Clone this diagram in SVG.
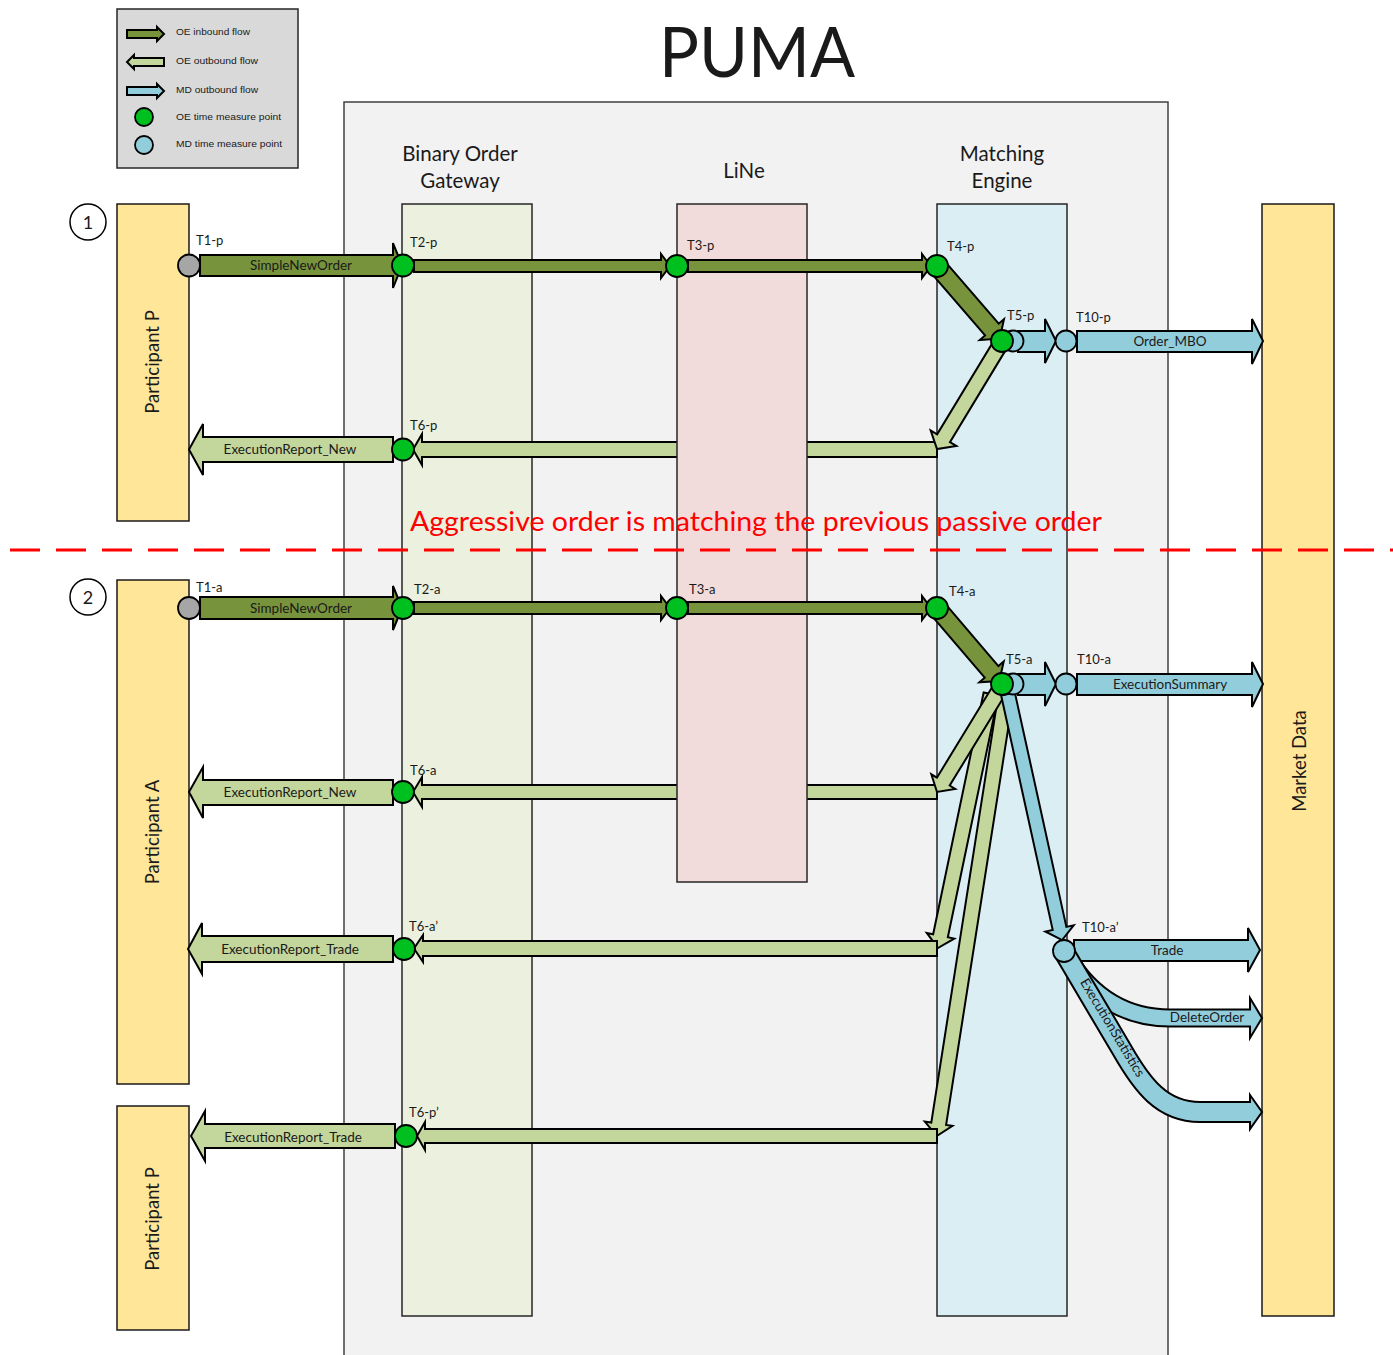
<svg xmlns="http://www.w3.org/2000/svg" width="1393" height="1355" viewBox="0 0 1393 1355">
<style>
.bx{stroke:#262626;stroke-width:1.5}
.in{fill:#77933c;stroke:#000;stroke-width:2;stroke-linejoin:miter}
.out{fill:#c3d69b;stroke:#000;stroke-width:2}
.md{fill:#92cddc;stroke:#000;stroke-width:2}
.oe{fill:#00c020;stroke:#000;stroke-width:1.8}
.mdc{fill:#92cddc;stroke:#000;stroke-width:1.8}
.gr{fill:#a6a6a6;stroke:#000;stroke-width:1.8}
.t{font-family:Lato,"Noto Sans",sans-serif;fill:#1a1a1a}
.lbl{font-family:Lato,"Noto Sans",sans-serif;font-size:13px;fill:#1a1a1a}
.al{font-family:Lato,"Noto Sans",sans-serif;font-size:13.5px;fill:#1a1a1a;text-anchor:middle}
.lg{font-family:"Liberation Sans",Arial,sans-serif;font-size:9.5px;fill:#1a1a1a}
.part{fill:#ffe699;stroke:#1a1a1a;stroke-width:1.5}
.rot{font-family:Lato,"Noto Sans",sans-serif;font-size:18.5px;fill:#1a1a1a;text-anchor:middle}
</style>
<rect width="1393" height="1355" fill="#fff"/>

<g id="legend">
<rect x="117" y="9" width="181" height="159" fill="#d9d9d9" stroke="#262626" stroke-width="1.5"/>
<polygon class="in" points="127,30 157,30 157,27 164,34 157,41 157,38 127,38"/>
<polygon class="out" points="164,58 134,58 134,55 127,62 134,69 134,66 164,66"/>
<polygon class="md" points="127,87 157,87 157,84 164,91 157,98 157,95 127,95"/>
<circle class="oe" cx="144" cy="117" r="9"/>
<circle class="mdc" cx="144" cy="145" r="9"/>
<text class="lg" x="176" y="35" textLength="74" lengthAdjust="spacingAndGlyphs">OE inbound flow</text>
<text class="lg" x="176" y="64" textLength="82" lengthAdjust="spacingAndGlyphs">OE outbound flow</text>
<text class="lg" x="176" y="93" textLength="82" lengthAdjust="spacingAndGlyphs">MD outbound flow</text>
<text class="lg" x="176" y="120" textLength="105" lengthAdjust="spacingAndGlyphs">OE time measure point</text>
<text class="lg" x="176" y="147" textLength="106" lengthAdjust="spacingAndGlyphs">MD time measure point</text>
</g>

<text id="title" class="t" x="757" y="77" font-size="70" text-anchor="middle" textLength="196" lengthAdjust="spacingAndGlyphs">PUMA</text>

<g id="puma">
<rect x="344" y="102" width="824" height="1270" fill="#f2f2f2" stroke="#404040" stroke-width="1.5"/>
</g>
<g id="bog">
<rect class="bx" x="402" y="204" width="130" height="1112" fill="#ebf1de"/>
<text class="t" x="460" y="161" font-size="20.5" text-anchor="middle">Binary Order</text>
<text class="t" x="460" y="188" font-size="20.5" text-anchor="middle">Gateway</text>
</g>
<g id="me">
<rect class="bx" x="937" y="204" width="130" height="1112" fill="#dbeef3"/>
<text class="t" x="1002" y="161" font-size="20.5" text-anchor="middle">Matching</text>
<text class="t" x="1002" y="188" font-size="20.5" text-anchor="middle">Engine</text>
</g>
<g id="marketdata">
<rect class="part" x="1262" y="204" width="72" height="1112"/>
<text class="rot" transform="translate(1306,761) rotate(-90)" x="0" y="0">Market Data</text>
</g>
<g id="participantP1">
<rect class="part" x="117" y="204" width="72" height="317"/>
<text class="rot" transform="translate(159,362) rotate(-90)">Participant P</text>
</g>
<g id="participantA">
<rect class="part" x="117" y="580" width="72" height="504"/>
<text class="rot" transform="translate(159,832) rotate(-90)">Participant A</text>
</g>
<g id="participantP2">
<rect class="part" x="117" y="1106" width="72" height="224"/>
<text class="rot" transform="translate(159,1219) rotate(-90)">Participant P</text>
</g>
<g id="step1">
<circle cx="88" cy="222" r="18" fill="#fff" stroke="#000" stroke-width="1.5"/>
<text class="t" x="88" y="229" font-size="18" text-anchor="middle">1</text>
</g>
<g id="step2">
<circle cx="88" cy="597" r="18" fill="#fff" stroke="#000" stroke-width="1.5"/>
<text class="t" x="88" y="604" font-size="18" text-anchor="middle">2</text>
</g>

<g id="connectors-behind">
<polygon class="out" points="937,442 422,442 422,434 413,449.5 422,465 422,457 937,457"/>
<polygon class="out" points="937,785 422,785 422,777 413,792 422,807 422,799 937,799"/>
</g>

<g id="line">
<rect class="bx" x="677" y="204" width="130" height="678" fill="#f2dcdb"/>
<text class="t" x="744" y="178" font-size="20.5" text-anchor="middle">LiNe</text>
</g>

<g id="connectors">
<polygon class="in" points="200,255 393,255 393,243 402,265.5 393,288 393,276 200,276"/>
<polygon class="in" points="414,260 661,260 661,254 670,266 661,278 661,272 414,272"/>
<polygon class="in" points="688,260 922,260 922,254 931,266 922,278 922,272 688,272"/>
<polygon class="in" transform="translate(937,266) rotate(49.2)" points="0,-9 84,-9 84,-16 96,0 84,16 84,9 0,9"/>
<polygon class="out" transform="translate(1000,345) rotate(121.2)" points="0,-7.5 109,-7.5 109,-15 121.6,0 109,15 109,7.5 0,7.5"/>
<polygon class="out" points="393,437 203,437 203,424 189,449.5 203,475 203,462 393,462"/>
<polygon class="md" points="1018,331 1045,331 1045,319 1056,341 1045,363 1045,352 1018,352"/>
<polygon class="md" points="1077,331 1252,331 1252,319 1263,341 1252,364 1252,352 1077,352"/>

<polygon class="in" points="200,597 393,597 393,586 402,608 393,630 393,619 200,619"/>
<polygon class="in" points="414,602 661,602 661,596 670,608 661,620 661,614 414,614"/>
<polygon class="in" points="688,602 922,602 922,596 931,608 922,620 922,614 688,614"/>
<polygon class="in" transform="translate(937,608) rotate(49.5)" points="0,-9 84,-9 84,-16 96,0 84,16 84,9 0,9"/>
<polygon class="md" points="1018,674 1045,674 1045,662 1056,684 1045,706 1045,695 1018,695"/>
<polygon class="md" points="1077,674 1252,674 1252,662 1263,684 1252,707 1252,695 1077,695"/>
<polygon class="out" transform="translate(991,694) rotate(101.8)" points="0,-7.5 247,-7.5 247,-14 259.5,0 247,14 247,7.5 0,7.5"/>
<polygon class="out" transform="translate(1006,694) rotate(98.9)" points="0,-7.5 435,-7.5 435,-14 447.4,0 435,14 435,7.5 0,7.5"/>
<polygon class="out" transform="translate(998,692) rotate(121.4)" points="0,-7.5 105,-7.5 105,-14 117.1,0 105,14 105,7.5 0,7.5"/>
<polygon class="md" transform="translate(1008,694) rotate(77.6)" points="0,-7 240,-7 240,-14.5 251.9,0 240,14.5 240,7 0,7"/>
<polygon class="out" points="937,941 423,941 423,935 414,948.5 423,962 423,956 937,956"/>
<polygon class="out" points="937,1129 425,1129 425,1122 417,1136 425,1150 425,1143 937,1143"/>
<polygon class="out" points="393,780 203,780 203,767 189,792 203,818 203,805 393,805"/>
<polygon class="out" points="393,936 202,936 202,923 188,949 202,974 202,962 393,962"/>
<polygon class="out" points="395,1124 205,1124 205,1111 191,1136 205,1161 205,1148 395,1148"/>
<polygon class="md" points="1074,940 1248,940 1248,928 1260,950 1248,972 1248,961 1074,961"/>
<path d="M1068,958 Q1105,1018 1170,1018 L1251,1018" fill="none" stroke="#000" stroke-width="19"/>
<polygon class="md" points="1250,998 1262,1018 1250,1038"/>
<path d="M1068,958 Q1105,1018 1170,1018 L1251.5,1018" fill="none" stroke="#92cddc" stroke-width="15"/>
<path d="M1064,952 L1122,1050 C1142,1085 1162,1112 1200,1112 L1251,1112" fill="none" stroke="#000" stroke-width="22"/>
<polygon class="md" points="1250,1095 1262,1112 1250,1129"/>
<path d="M1064,952 L1122,1050 C1142,1085 1162,1112 1200,1112 L1251.5,1112" fill="none" stroke="#92cddc" stroke-width="18"/>
</g>

<g id="arrow-labels">
<text class="al" x="301" y="270">SimpleNewOrder</text>
<text class="al" x="290" y="454">ExecutionReport_New</text>
<text class="al" x="1170" y="346">Order_MBO</text>
<text class="al" x="301" y="613">SimpleNewOrder</text>
<text class="al" x="1170" y="689">ExecutionSummary</text>
<text class="al" x="290" y="797">ExecutionReport_New</text>
<text class="al" x="290" y="954">ExecutionReport_Trade</text>
<text class="al" x="293" y="1142">ExecutionReport_Trade</text>
<text class="al" x="1167" y="955">Trade</text>
<text class="al" x="1207" y="1022">DeleteOrder</text>
<text class="al" transform="translate(1112,1028) rotate(59)" x="0" y="4" font-size="13">ExecutionStatistics</text>
</g>

<g id="points">
<circle class="gr" cx="189" cy="265.5" r="11"/>
<circle class="oe" cx="403" cy="265.5" r="11"/>
<circle class="oe" cx="677" cy="266" r="11"/>
<circle class="oe" cx="937" cy="266" r="11"/>
<circle class="mdc" cx="1013" cy="341" r="10.5"/>
<circle class="oe" cx="1002" cy="341" r="11"/>
<circle class="mdc" cx="1066" cy="341" r="10.5"/>
<circle class="oe" cx="403" cy="449.5" r="11"/>
<circle class="gr" cx="189" cy="608" r="11"/>
<circle class="oe" cx="403" cy="608" r="11"/>
<circle class="oe" cx="677" cy="608" r="11"/>
<circle class="oe" cx="937" cy="608" r="11"/>
<circle class="mdc" cx="1013" cy="684" r="10.5"/>
<circle class="oe" cx="1002" cy="684" r="11"/>
<circle class="mdc" cx="1066" cy="684" r="10.5"/>
<circle class="oe" cx="403" cy="792" r="11"/>
<circle class="oe" cx="404" cy="949" r="11"/>
<circle class="oe" cx="406" cy="1136" r="11"/>
<circle class="mdc" cx="1064" cy="951" r="11"/>
</g>

<g id="point-labels">
<text class="lbl" x="196" y="245">T1-p</text>
<text class="lbl" x="410" y="247">T2-p</text>
<text class="lbl" x="687" y="250">T3-p</text>
<text class="lbl" x="947" y="251">T4-p</text>
<text class="lbl" x="1007" y="320">T5-p</text>
<text class="lbl" x="1076" y="322">T10-p</text>
<text class="lbl" x="410" y="430">T6-p</text>
<text class="lbl" x="196" y="592">T1-a</text>
<text class="lbl" x="414" y="594">T2-a</text>
<text class="lbl" x="689" y="594">T3-a</text>
<text class="lbl" x="949" y="596">T4-a</text>
<text class="lbl" x="1006" y="664">T5-a</text>
<text class="lbl" x="1077" y="664">T10-a</text>
<text class="lbl" x="410" y="775">T6-a</text>
<text class="lbl" x="409" y="931">T6-a’</text>
<text class="lbl" x="1082" y="932">T10-a’</text>
<text class="lbl" x="409" y="1117">T6-p’</text>
</g>

<g id="separator">
<line x1="10" y1="550" x2="1393" y2="550" stroke="#ff0000" stroke-width="3" stroke-dasharray="30 16"/>
<text x="410" y="531" font-family="Lato,'Noto Sans',sans-serif" font-size="26" fill="#ff0000" textLength="692" lengthAdjust="spacingAndGlyphs">Aggressive order is matching the previous passive order</text>
</g>
</svg>
